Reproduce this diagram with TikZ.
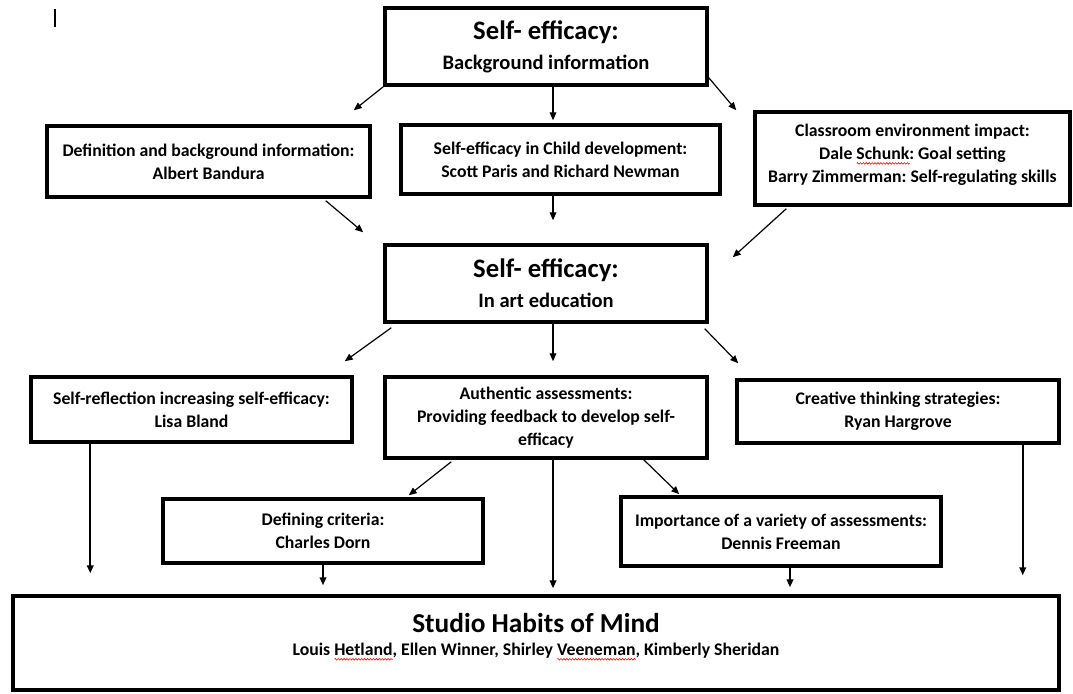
\documentclass[tikz,border=0pt]{standalone}
\usepackage{fontspec}
\setmainfont{Carlito}
\usetikzlibrary{arrows.meta, calc, decorations.pathmorphing}

\newcommand{\headfont}{\fontsize{20pt}{22.5pt}\selectfont}
\newcommand{\studiofont}{\fontsize{20.5pt}{21pt}\selectfont}
\newsavebox{\spellbox}
\newcommand{\spellwave}[1]{\sbox{\spellbox}{#1}\rlap{\tikz[baseline=0pt]\draw[red, line width=0.45pt, decorate, decoration={zigzag, amplitude=0.6pt, segment length=2.2pt}] (0pt,-3pt) -- (\the\wd\spellbox,-3pt);}\usebox{\spellbox}}
\frenchspacing

\begin{document}
\begin{tikzpicture}[x=0.75pt, y=-0.75pt,
    every node/.style={font=\frenchspacing\bfseries\fontsize{13.3pt}{17pt}\selectfont},
    box/.style={rectangle, draw, line width=2.6pt, align=center, inner sep=2pt},
    headbox/.style={box, font=\frenchspacing\bfseries\fontsize{15.4pt}{22.5pt}\selectfont},
    arrow/.style={-{Triangle[length=6pt, width=5pt]}, line width=0.9pt},
    droparrow/.style={arrow, line width=1.3pt}
]
\useasboundingbox (0,0) rectangle (1073,693);

% cursor mark
\draw[line width=0.8pt] (55,9) -- (55,27);

% Background level
\node[headbox, minimum width=241.5pt, minimum height=57.75pt] (top) at (546,46.5) {{\headfont Self- efficacy:}\\Background information};
\node[box, minimum width=242.25pt, minimum height=53.25pt] (def) at (208.5,161.5) {Definition and background information:\\Albert Bandura};
\node[box, minimum width=239.25pt, minimum height=51.75pt] (child) at (560.5,159.5) {Self-efficacy in Child development:\\Scott Paris and Richard Newman};
\node[box, minimum width=236.25pt, minimum height=69.75pt] (class) at (912.5,158.5) {Classroom environment impact:\\Dale \spellwave{Schunk}: Goal setting\\Barry Zimmerman: Self-regulating skills\\[-9pt]\mbox{}};

% Art education level
\node[headbox, minimum width=241.5pt, minimum height=57.75pt] (mid) at (546,283.5) {{\headfont Self- efficacy:}\\In art education};
\node[box, minimum width=240.75pt, minimum height=48.75pt] (refl) at (191.5,409.5) {Self-reflection increasing self-efficacy:\\Lisa Bland};
\node[box, minimum width=241.5pt, minimum height=60.75pt] (auth) at (546,417.5) {Authentic assessments:\\Providing feedback to develop self-\\efficacy};
\node[box, minimum width=241.5pt, minimum height=47.25pt] (creat) at (898,411.5) {Creative thinking strategies:\\Ryan Hargrove};
\node[box, minimum width=240pt, minimum height=48pt] (defc) at (323,531) {Defining criteria:\\Charles Dorn};
\node[box, minimum width=240pt, minimum height=51.75pt] (imp) at (781,531.5) {Importance of a variety of assessments:\\Dennis Freeman};

% Studio habits
\node[box, minimum width=784.5pt, minimum height=70.5pt] (studio) at (536,643) {{\studiofont Studio Habits of Mind}\\Louis \spellwave{Hetland}, Ellen Winner, Shirley \spellwave{Veeneman}, Kimberly Sheridan\\[-4pt]\mbox{}};

% Arrows, first level
\draw[arrow] (top.south west) -- ($(def.north east)+(-18,-14)$);
\draw[arrow] ($(top.south)+(7,0)$) -- ($(child.north)+(-7.5,-3)$);
\draw[arrow] ($(top.south east)+(0,-9)$) -- ($(class.north west)+(-17,0)$);

\draw[arrow] ($(def.south east)+(-46,2)$) -- ($(mid.north west)+(-20,-11)$);
\draw[arrow] ($(child.south)+(-7.5,0)$) -- ($(mid.north)+(7,-23)$);
\draw[arrow] ($(class.south west)+(33,2)$) -- ($(mid.north east)+(24,14)$);

% Arrows, second level
\draw[arrow] ($(mid.south west)+(8,4)$) -- ($(refl.north east)+(-9,-14)$);
\draw[arrow] ($(mid.south)+(7,0)$) -- ($(auth.north)+(7,-14)$);
\draw[arrow] ($(mid.south east)+(-4,5)$) -- ($(creat.north west)+(3,-15)$);

\draw[arrow] ($(auth.south west)+(68,2)$) -- ($(defc.north east)+(-76,-2)$);
\draw[arrow] ($(auth.south east)+(-65,0)$) -- ($(imp.north west)+(60,-1)$);

% Arrows into studio habits
\coordinate (reflout) at ($(refl.south west)+(61,0)$);
\coordinate (authout) at ($(auth.south)+(7,0)$);
\coordinate (creatout) at ($(creat.south east)+(-38,0)$);
\coordinate (impout) at ($(imp.south)+(9,0)$);
\draw[droparrow, shorten >=15.75pt] (reflout) -- (reflout |- studio.north);
\draw[droparrow, shorten >=4.5pt] (authout) -- (authout |- studio.north);
\draw[droparrow, shorten >=14.25pt] (creatout) -- (creatout |- studio.north);
\draw[droparrow, shorten >=6.75pt] (defc.south) -- (defc.south |- studio.north);
\draw[droparrow, shorten >=5.25pt] (impout) -- (impout |- studio.north);

\end{tikzpicture}
\end{document}
